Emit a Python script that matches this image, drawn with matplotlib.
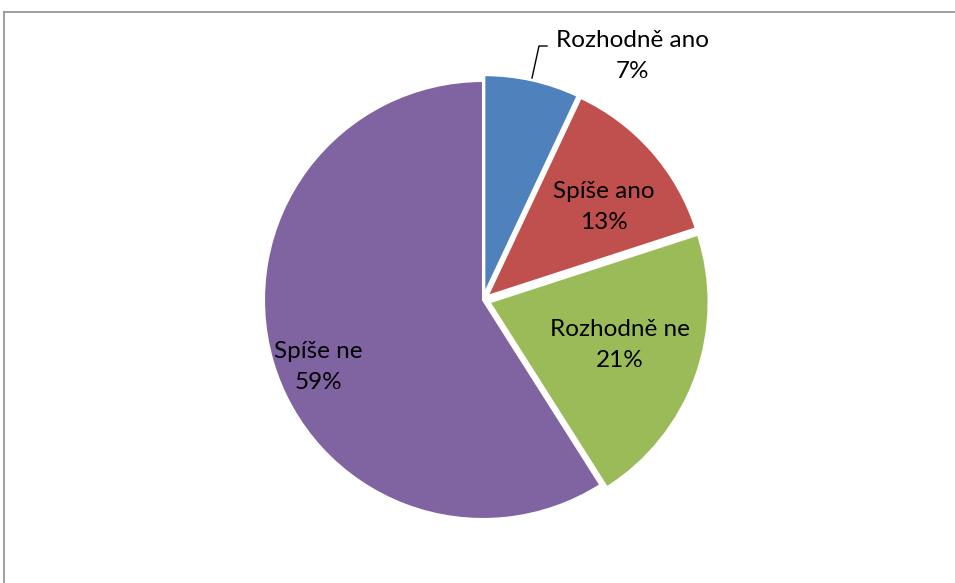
import matplotlib
matplotlib.use("Agg")
import matplotlib.pyplot as plt
from matplotlib.lines import Line2D

categories = ["Rozhodně ano", "Spíše ano", "Rozhodně ne", "Spíše ne"]
values = [7, 13, 21, 59]
colors = ["#4F81BD", "#C0504D", "#9BBB59", "#8064A2"]

# explode offsets (axes here are in pixel units, so these are px)
explode = [6, 6, 7, 0]
# label centres in pixel space (x from left, y from top)
label_pos = [(632, 56), (604, 207), (620, 345), (318, 367)]

W, H = 955, 583
fig = plt.figure(figsize=(W / 100, H / 100), dpi=100)
ax = fig.add_axes([0, 0, 1, 1])

ax.pie(
    values,
    colors=colors,
    explode=explode,
    startangle=90,
    counterclock=False,
    center=(483, H - 300),
    radius=219,
    wedgeprops=dict(edgecolor="white", linewidth=1.5),
    frame=True,
)
ax.set_xlim(0, W)
ax.set_ylim(0, H)
ax.set_aspect("equal")
ax.axis("off")

for cat, val, (px, py) in zip(categories, values, label_pos):
    ax.text(px, H - py, f"{cat}\n{val}%", ha="center", va="center",
            fontsize=17.5, family="Lato", linespacing=1.6, color="black")

# leader line for the small slice
ax.plot([532, 539, 547], [H - 78, H - 46, H - 46], color="black", lw=1)

# chart border (only left and top edges visible in the crop)
fig.add_artist(Line2D([3.5 / W, 3.5 / W], [0, 1 - 12 / H], color="#909090", lw=1.2))
fig.add_artist(Line2D([3.5 / W, 1], [1 - 12 / H, 1 - 12 / H], color="#909090", lw=1.2))

fig.savefig("out.png", dpi=100)
